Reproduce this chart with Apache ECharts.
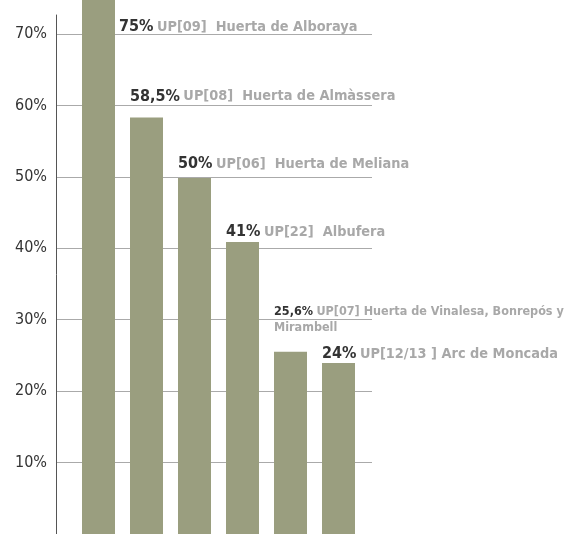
<!DOCTYPE html>
<html>
<head>
<meta charset="utf-8">
<script src="https://cdn.jsdelivr.net/npm/echarts@6/dist/echarts.min.js"></script>
<style>
  html, body { margin: 0; padding: 0; background: #fff; }
  #main { width: 571px; height: 534px; }
</style>
</head>
<body>
<div id="main"></div>
<script>
// datos
const categories = ['UP[09]', 'UP[08]', 'UP[06]', 'UP[22]', 'UP[07]', 'UP[12/13]'];
const values = [75, 58.5, 50, 41, 25.6, 24];
const valueLabels = ['75%', '58,5%', '50%', '41%', '25,6%', '24%'];
const names = [
    'UP[09]  Huerta de Alboraya',
    'UP[08]  Huerta de Almàssera',
    'UP[06]  Huerta de Meliana',
    'UP[22]  Albufera',
    'UP[07] Huerta de Vinalesa, Bonrepós y\nMirambell',
    'UP[12/13 ] Arc de Moncada'
];
const yTicks = [10, 20, 30, 40, 50, 60, 70];

// posicion de las etiquetas (respecto a la barra)
const labelOffsets = [[37, 27], [0, -21], [0, -14], [0, -10], [0, -32], [0, -9]];
const FONT = "'Liberation Sans Narrow', 'DejaVu Sans Condensed', sans-serif";

const chartDom = document.getElementById('main');
const myChart = echarts.init(chartDom);

const option = {
    animation: false,
    textStyle: { fontFamily: FONT },
    grid: [
        // grid 0: eje y + lineas
        { left: 56, top: 15, width: 316, bottom: -2 },
        // grid 1: barras
        { left: 74.5, top: -2, width: 288, bottom: -2 }
    ],
    xAxis: [
        { gridIndex: 0, type: 'value', show: false, min: 0, max: 1 },
        {
            gridIndex: 1, type: 'category', data: categories,
            axisLine: { show: false }, axisTick: { show: false }, axisLabel: { show: false }
        }
    ],
    yAxis: [
        {
            gridIndex: 0, type: 'value', min: 0, max: 72.66, interval: 10,
            axisLine: { show: true, lineStyle: { color: '#555', width: 1 } },
            axisTick: { show: false },
            axisLabel: {
                showMaxLabel: false, showMinLabel: false,
                formatter: v => (yTicks.includes(v) ? v + '%' : ''),
                color: '#333', fontSize: 16, fontFamily: FONT, margin: 9
            },
            splitLine: {
                show: true, showMinLine: false, showMaxLine: false,
                lineStyle: { color: '#aaa', width: 1 }
            }
        },
        { gridIndex: 1, type: 'value', min: 0, max: 75, show: false }
    ],
    series: [{
        type: 'bar',
        xAxisIndex: 1,
        yAxisIndex: 1,
        barWidth: 33,
        itemStyle: { color: '#9a9e7f' },
        data: values.map((v, i) => ({
            value: v,
            label: {
                show: true,
                position: labelOffsets[i],
                align: 'left',
                verticalAlign: 'middle',
                formatter: '{v|' + valueLabels[i] + '} {n|' + names[i].replace('\n', '}\n{n|') + '}',
                rich: {
                    v: {
                        fontFamily: FONT, fontWeight: 'bold', color: '#333',
                        fontSize: i === 4 ? 12.5 : 16, lineHeight: i === 4 ? 16 : 18
                    },
                    n: {
                        fontFamily: FONT, fontWeight: 'bold', color: '#a8a8a8',
                        fontSize: i === 4 ? 12.5 : 14.4, lineHeight: i === 4 ? 16 : 18
                    }
                }
            }
        }))
    }]
};

option && myChart.setOption(option);
</script>
</body>
</html>
